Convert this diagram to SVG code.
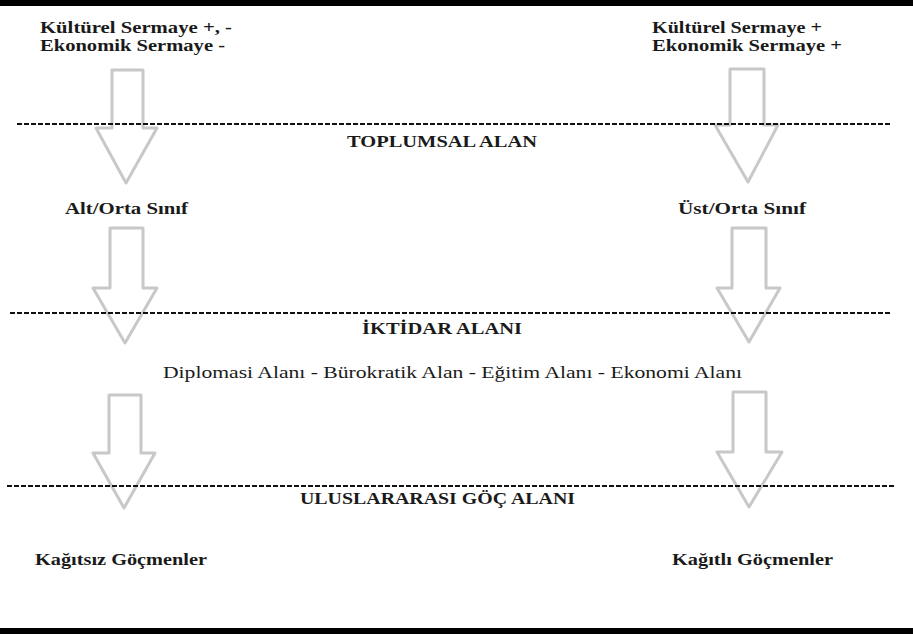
<svg xmlns="http://www.w3.org/2000/svg" width="913" height="634" viewBox="0 0 913 634">
<style>
text{font-family:'Liberation Serif','DejaVu Serif','Times New Roman',serif;font-size:17px;fill:#1a1a1a;font-weight:bold}
.r{font-weight:normal}
.arr{fill:none;stroke:#c8c8c8;stroke-width:3;stroke-linejoin:round}
.dash{stroke:#111;stroke-width:2;stroke-dasharray:5 2;fill:none}
</style>
<rect x="0" y="0" width="913" height="634" fill="#fff"/>
<rect x="0" y="0" width="913" height="6" fill="#000"/>
<rect x="0" y="628" width="913" height="6" fill="#000"/>
<g id="connectors">
<path class="arr" d="M112 70 H143 V128 H157 L126 183 L96 128 H112 Z"/>
<path class="arr" d="M730 69 H764 V125 H778 L748 182 L715 125 H730 Z"/>
<path class="arr" d="M110 228 H143 V288 H157 L125 343 L93 288 H110 Z"/>
<path class="arr" d="M732 228 H766 V288 H780 L749 342 L717 288 H732 Z"/>
<path class="arr" d="M109 395 H141 V453 H155 L124 508 L93 453 H109 Z"/>
<path class="arr" d="M733 392 H766 V452 H782 L749 507 L717 452 H733 Z"/>
</g>
<g id="lines">
<line class="dash" x1="17" y1="124" x2="892" y2="124"/>
<line class="dash" x1="10" y1="313" x2="892" y2="313"/>
<line class="dash" x1="7" y1="486" x2="895" y2="486"/>
</g>
<g id="n-kultur-left">
<text x="40" y="33" textLength="192" lengthAdjust="spacingAndGlyphs">Kültürel Sermaye +, -</text>
<text x="40" y="51" textLength="185" lengthAdjust="spacingAndGlyphs">Ekonomik Sermaye -</text>
</g>
<g id="n-kultur-right">
<text x="652" y="33" textLength="170" lengthAdjust="spacingAndGlyphs">Kültürel Sermaye +</text>
<text x="652" y="51" textLength="190" lengthAdjust="spacingAndGlyphs">Ekonomik Sermaye +</text>
</g>
<g id="n-toplumsal">
<text x="347" y="147" textLength="190" lengthAdjust="spacingAndGlyphs">TOPLUMSAL ALAN</text>
</g>
<g id="n-alt-orta">
<text x="65" y="214" textLength="123" lengthAdjust="spacingAndGlyphs">Alt/Orta Sınıf</text>
</g>
<g id="n-ust-orta">
<text x="678" y="214" textLength="128" lengthAdjust="spacingAndGlyphs">Üst/Orta Sınıf</text>
</g>
<g id="n-iktidar">
<text x="362" y="334" textLength="160" lengthAdjust="spacingAndGlyphs">İKTİDAR ALANI</text>
</g>
<g id="n-alanlar">
<text class="r" x="163" y="378" textLength="579" lengthAdjust="spacingAndGlyphs">Diplomasi Alanı - Bürokratik Alan - Eğitim Alanı - Ekonomi Alanı</text>
</g>
<g id="n-goc">
<text x="300" y="504" textLength="275" lengthAdjust="spacingAndGlyphs">ULUSLARARASI GÖÇ ALANI</text>
</g>
<g id="n-kagitsiz">
<text x="35" y="565" textLength="172" lengthAdjust="spacingAndGlyphs">Kağıtsız Göçmenler</text>
</g>
<g id="n-kagitli">
<text x="672" y="565" textLength="161" lengthAdjust="spacingAndGlyphs">Kağıtlı Göçmenler</text>
</g>
</svg>
